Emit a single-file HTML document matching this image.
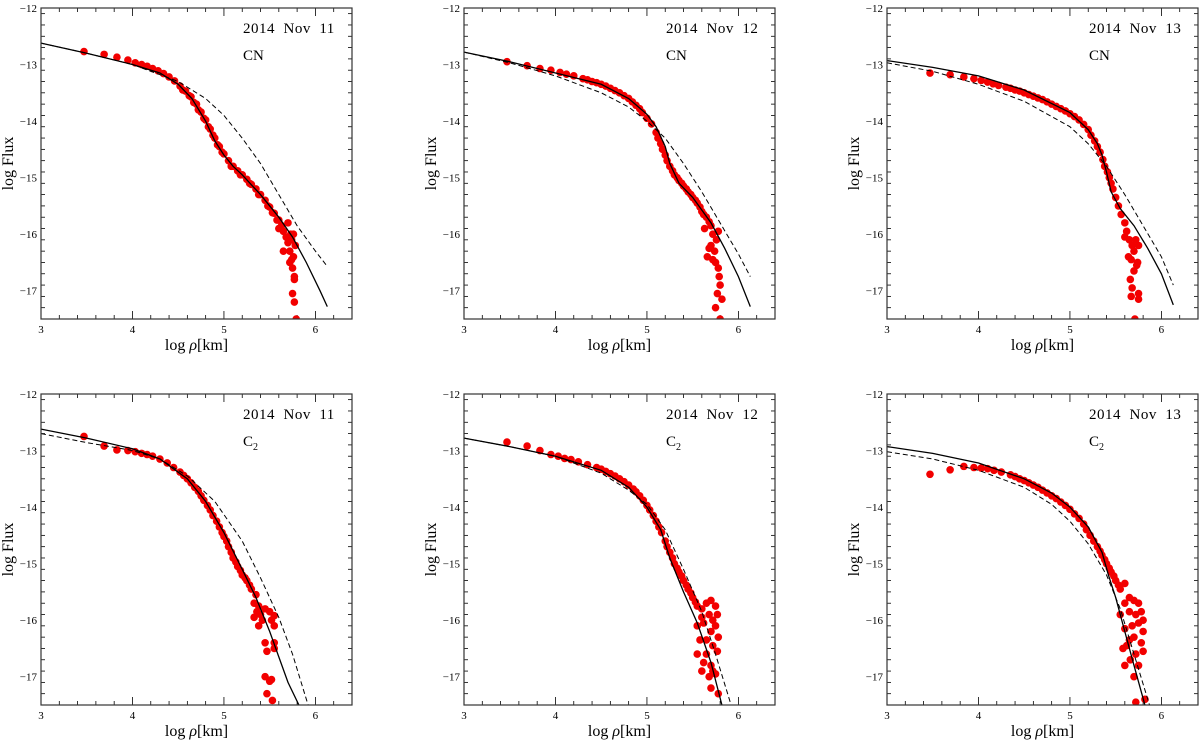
<!DOCTYPE html>
<html><head><meta charset="utf-8"><style>
body{margin:0;background:#fff;}
svg{display:block;font-family:"Liberation Serif",serif;}
</style></head><body>
<svg id="fig" width="1200" height="743" viewBox="0 0 1200 743"></svg>
<script>
const xTicks=[3,4,5,6];
const yTicks=[-12,-13,-14,-15,-16,-17];
const titles=["2014 Nov 11","2014 Nov 12","2014 Nov 13","2014 Nov 11","2014 Nov 12","2014 Nov 13"];
const species=["CN","CN","CN","C2","C2","C2"];
const solid1=[3,-12.62,3.5,-12.8,4,-13.0,4.3,-13.15,4.5,-13.35,4.65,-13.6,4.8,-14.0,4.9,-14.35,5.0,-14.6,5.1,-14.8,5.2,-14.95,5.4,-15.3,5.6,-15.7,5.75,-16.05,5.9,-16.5,6.05,-17.0,6.13,-17.28];
const dash1=[3,-12.62,3.5,-12.8,4,-13.0,4.5,-13.3,4.8,-13.6,5.0,-13.9,5.2,-14.3,5.4,-14.75,5.6,-15.3,5.8,-15.85,6.0,-16.3,6.13,-16.57];
const pts1=[3.47,-12.77,3.69,-12.82,3.83,-12.87,3.95,-12.92,4.03,-12.97,4.1,-13.0,4.16,-13.03,4.22,-13.07,4.28,-13.11,4.34,-13.16,4.4,-13.22,4.46,-13.29,4.52,-13.38,4.58,-13.47,4.64,-13.57,4.7,-13.7,4.75,-13.84,4.8,-13.98,4.85,-14.14,4.9,-14.3,4.95,-14.45,5.0,-14.58,5.05,-14.7,5.1,-14.8,5.15,-14.88,5.2,-14.95,5.25,-15.03,5.3,-15.12,5.35,-15.2,5.4,-15.3,5.45,-15.4,5.5,-15.52,5.55,-15.63,5.6,-15.75,5.63,-15.85,5.65,-15.95,5.68,-16.05,5.7,-16.15,5.72,-16.3,5.74,-16.1,5.76,-16.4,5.75,-16.6,5.72,-16.5,5.78,-16.2,5.77,-16.8,5.75,-17.05,5.77,-17.2,5.73,-16.0,5.7,-15.8,5.76,-16.0,5.79,-17.5,5.6,-15.9,5.65,-16.3,5.74,-16.45,5.77,-16.75,4.72,-13.8,4.78,-13.95,4.83,-14.1,4.88,-14.25,4.93,-14.42,4.98,-14.55,5.08,-14.8,5.18,-14.95,5.28,-15.1,5.38,-15.3,5.48,-15.5,5.53,-15.62,5.58,-15.75,4.55,-13.45,4.62,-13.55,4.67,-13.67];
const solid2=[3,-12.78,3.5,-12.95,4,-13.15,4.5,-13.35,4.8,-13.6,5.0,-13.88,5.1,-14.1,5.2,-14.45,5.25,-14.75,5.35,-15.1,5.5,-15.35,5.7,-15.8,5.85,-16.25,6.0,-16.75,6.13,-17.28];
const dash2=[3,-12.78,3.5,-12.97,4,-13.2,4.5,-13.5,4.8,-13.75,5.0,-14.0,5.2,-14.3,5.4,-14.75,5.6,-15.25,5.8,-15.8,6.0,-16.35,6.13,-16.75];
const pts2=[3.47,-12.95,3.69,-13.02,3.83,-13.07,3.95,-13.1,4.05,-13.14,4.12,-13.17,4.2,-13.2,4.3,-13.25,4.4,-13.3,4.5,-13.35,4.6,-13.42,4.7,-13.5,4.8,-13.6,4.88,-13.72,4.95,-13.85,5.0,-13.95,5.05,-14.05,5.1,-14.2,5.15,-14.4,5.2,-14.6,5.25,-14.8,5.3,-14.95,5.35,-15.05,5.4,-15.15,5.45,-15.25,5.5,-15.35,5.55,-15.45,5.6,-15.6,5.65,-15.7,5.7,-15.85,5.72,-16.0,5.7,-16.2,5.74,-16.3,5.76,-16.1,5.68,-16.25,5.75,-16.5,5.78,-16.6,5.72,-16.45,5.8,-16.9,5.77,-17.05,5.82,-17.15,5.75,-17.3,5.8,-17.5,5.79,-16.75,5.66,-16.4,5.78,-15.95,5.63,-15.9,4.35,-13.27,4.45,-13.32,4.55,-13.38,4.65,-13.46,4.75,-13.55,4.84,-13.66,4.92,-13.78,5.12,-14.3,5.17,-14.5,5.22,-14.7,5.28,-14.88,5.33,-15.0,5.38,-15.1,5.43,-15.2,5.48,-15.3,5.53,-15.4,5.58,-15.52,5.62,-15.65,5.68,-15.78];
const solid3=[3,-12.93,3.5,-13.05,4,-13.2,4.5,-13.45,5.0,-13.85,5.2,-14.15,5.3,-14.4,5.35,-14.6,5.4,-14.9,5.45,-15.25,5.55,-15.55,5.7,-15.85,5.85,-16.25,6.0,-16.7,6.13,-17.25];
const dash3=[3,-12.97,3.5,-13.12,4,-13.35,4.5,-13.65,5.0,-14.1,5.2,-14.4,5.4,-14.8,5.6,-15.3,5.8,-15.85,6.0,-16.4,6.13,-16.9];
const pts3=[3.47,-13.15,3.69,-13.18,3.84,-13.22,3.95,-13.25,4.03,-13.28,4.1,-13.31,4.16,-13.34,4.22,-13.37,4.3,-13.4,4.4,-13.45,4.5,-13.5,4.6,-13.56,4.7,-13.62,4.8,-13.7,4.9,-13.78,5.0,-13.87,5.1,-13.98,5.2,-14.15,5.27,-14.35,5.33,-14.55,5.38,-14.8,5.43,-15.0,5.47,-15.2,5.5,-15.35,5.53,-15.5,5.56,-15.65,5.6,-15.8,5.62,-15.95,5.65,-16.1,5.6,-16.05,5.68,-16.2,5.7,-16.3,5.72,-16.1,5.75,-16.2,5.67,-16.45,5.73,-16.55,5.7,-16.65,5.66,-16.8,5.68,-16.95,5.67,-17.1,5.75,-17.05,5.75,-17.15,5.71,-17.5,5.74,-16.5,5.64,-16.4,4.35,-13.42,4.45,-13.47,4.55,-13.53,4.65,-13.59,4.75,-13.66,4.85,-13.74,4.95,-13.82,5.05,-13.92,5.15,-14.06,5.23,-14.25,5.3,-14.45,5.36,-14.68,5.41,-14.9,5.45,-15.1];
const solid4=[3,-12.62,3.5,-12.78,4,-12.97,4.3,-13.15,4.6,-13.5,4.8,-13.9,5.0,-14.45,5.2,-15.1,5.35,-15.6,5.5,-16.2,5.6,-16.65,5.7,-17.1,5.82,-17.5];
const dash4=[3,-12.7,3.5,-12.86,4,-13.0,4.3,-13.15,4.6,-13.45,4.9,-13.9,5.2,-14.6,5.4,-15.25,5.6,-15.95,5.75,-16.6,5.92,-17.5];
const pts4=[3.47,-12.75,3.69,-12.92,3.83,-12.99,3.95,-13.0,4.03,-13.02,4.1,-13.05,4.16,-13.07,4.22,-13.1,4.3,-13.15,4.38,-13.22,4.45,-13.3,4.52,-13.38,4.6,-13.5,4.68,-13.65,4.75,-13.8,4.82,-13.97,4.88,-14.15,4.95,-14.35,5.0,-14.52,5.05,-14.7,5.1,-14.9,5.15,-15.05,5.2,-15.2,5.25,-15.3,5.3,-15.45,5.35,-15.55,5.33,-15.7,5.38,-15.75,5.4,-15.9,5.36,-15.85,5.42,-16.0,5.38,-16.1,5.45,-15.8,5.5,-15.85,5.55,-15.92,5.52,-16.0,5.55,-16.1,5.45,-16.4,5.47,-16.55,5.55,-16.4,5.55,-16.5,5.45,-17.0,5.5,-17.08,5.52,-17.05,5.47,-17.3,5.53,-17.42,5.33,-15.95,4.56,-13.44,4.64,-13.57,4.72,-13.72,4.78,-13.88,4.85,-14.05,4.92,-14.25,4.98,-14.45,5.03,-14.6,5.08,-14.8,5.13,-14.97,5.18,-15.12,5.23,-15.25,5.28,-15.38];
const solid5=[3,-12.78,3.5,-12.93,4,-13.1,4.5,-13.35,4.8,-13.65,5.0,-14.0,5.15,-14.4,5.25,-14.9,5.4,-15.5,5.55,-16.05,5.7,-16.75,5.82,-17.5];
const dash5=[3,-12.78,3.5,-12.93,4,-13.1,4.5,-13.4,4.8,-13.7,5.0,-13.95,5.2,-14.4,5.4,-15.1,5.6,-15.85,5.75,-16.6,5.92,-17.5];
const pts5=[3.47,-12.85,3.69,-12.92,3.83,-13.0,3.95,-13.07,4.03,-13.1,4.1,-13.14,4.17,-13.16,4.25,-13.2,4.35,-13.25,4.45,-13.3,4.55,-13.37,4.65,-13.45,4.75,-13.55,4.85,-13.68,4.92,-13.8,5.0,-13.97,5.07,-14.15,5.13,-14.35,5.2,-14.6,5.25,-14.8,5.3,-15.0,5.35,-15.15,5.4,-15.3,5.45,-15.45,5.5,-15.6,5.55,-15.75,5.6,-15.8,5.65,-15.7,5.7,-15.65,5.75,-15.75,5.77,-15.9,5.72,-16.0,5.68,-15.9,5.62,-16.05,5.55,-16.1,5.7,-16.2,5.75,-16.1,5.78,-16.3,5.65,-16.35,5.58,-16.35,5.72,-16.45,5.77,-16.55,5.65,-16.6,5.55,-16.6,5.7,-16.8,5.62,-16.75,5.6,-16.9,5.72,-16.9,5.68,-17.0,5.75,-16.95,5.7,-17.2,5.78,-17.3,5.6,-15.95,4.5,-13.33,4.6,-13.41,4.7,-13.5,4.8,-13.61,4.88,-13.73,4.96,-13.88,5.03,-14.05,5.1,-14.25,5.16,-14.45,5.22,-14.7,5.28,-14.9,5.33,-15.08,5.38,-15.22,5.43,-15.38,5.48,-15.52,5.53,-15.68];
const solid6=[3,-12.93,3.5,-13.05,4,-13.22,4.5,-13.5,4.8,-13.75,5.0,-14.0,5.2,-14.35,5.35,-14.8,5.42,-15.2,5.5,-15.6,5.6,-16.2,5.7,-16.8,5.82,-17.5];
const dash6=[3,-13.02,3.5,-13.15,4,-13.35,4.5,-13.65,4.8,-13.95,5.0,-14.25,5.2,-14.65,5.4,-15.2,5.55,-15.8,5.7,-16.6,5.87,-17.5];
const pts6=[3.47,-13.42,3.69,-13.34,3.84,-13.28,3.95,-13.3,4.03,-13.31,4.1,-13.32,4.17,-13.35,4.25,-13.38,4.35,-13.43,4.45,-13.5,4.55,-13.57,4.65,-13.65,4.75,-13.75,4.85,-13.85,4.95,-13.97,5.05,-14.12,5.15,-14.3,5.22,-14.5,5.3,-14.7,5.35,-14.85,5.4,-15.0,5.45,-15.15,5.5,-15.3,5.55,-15.45,5.6,-15.35,5.65,-15.6,5.7,-15.65,5.75,-15.7,5.78,-15.85,5.8,-16.0,5.72,-15.9,5.65,-15.85,5.6,-15.7,5.55,-15.9,5.68,-16.1,5.75,-16.05,5.8,-16.2,5.6,-16.15,5.7,-16.3,5.78,-16.4,5.65,-16.35,5.58,-16.5,5.72,-16.6,5.8,-16.55,5.66,-16.7,5.6,-16.8,5.75,-16.8,5.7,-17.0,5.72,-17.45,5.82,-17.4,5.62,-16.45,4.4,-13.46,4.5,-13.53,4.6,-13.61,4.7,-13.7,4.8,-13.8,4.9,-13.91,5.0,-14.04,5.1,-14.2,5.18,-14.4,5.26,-14.6,5.33,-14.78,5.38,-14.93,5.43,-15.08,5.48,-15.22,5.53,-15.38];
const solids=[solid1,solid2,solid3,solid4,solid5,solid6];
const dashes=[dash1,dash2,dash3,dash4,dash5,dash6];
const points=[pts1,pts2,pts3,pts4,pts5,pts6];

const NS="http://www.w3.org/2000/svg";
const svg=document.getElementById('fig');
const W=311,H=311,X0=3,X1=6.4,Y0=-17.5,Y1=-12;
const lefts=[41,464,887],tops=[8,394];
function mk(tag,attrs,parent){const e=document.createElementNS(NS,tag);for(const k in attrs)e.setAttribute(k,attrs[k]);parent.appendChild(e);return e;}
for(let p=0;p<6;p++){
  const L=lefts[p%3],T=tops[Math.floor(p/3)];
  const sx=v=>L+(v-X0)/(X1-X0)*W;
  const sy=v=>T+(Y1-v)/(Y1-Y0)*H;
  const g=mk('g',{},svg);
  
  
  const clipId='c'+p;
  const cp=mk('clipPath',{id:clipId},g);mk('rect',{x:L,y:T,width:W,height:H},cp);
  const tk=mk('g',{stroke:'#000','stroke-width':0.8},g);
  
  
  for(let i=0;i<=17;i++){const v=X0+i*0.2;const x=sx(v);const maj=Math.abs(v-Math.round(v))<1e-6;const l=maj?8:4;
    mk('line',{x1:x,y1:T+H,x2:x,y2:T+H-l},tk);mk('line',{x1:x,y1:T,x2:x,y2:T+l},tk);}
  for(let i=0;i<=27;i++){const v=Y0+i*0.2;const y=sy(v);const maj=Math.abs(v-Math.round(v))<1e-6;const l=maj?8:4;
    mk('line',{x1:L,y1:y,x2:L+l,y2:y},tk);mk('line',{x1:L+W,y1:y,x2:L+W-l,y2:y},tk);}
  xTicks.forEach(v=>{const t=mk('text',{x:sx(v),y:T+H+14,'font-size':11,'text-anchor':'middle'},g);t.textContent=v;
    
    });
  yTicks.forEach(v=>{const t=mk('text',{x:L-4,y:sy(v)+4,'font-size':11,'text-anchor':'end'},g);t.textContent='\u2212'+Math.abs(v);
    
    });
  const xt=mk('text',{x:L+W/2,y:T+H+31,'font-size':16,'text-anchor':'middle'},g);
  
  
  xt.innerHTML='log <tspan font-style="italic">ρ</tspan>[km]';
  const yt=mk('text',{x:0,y:0,'font-size':16,'text-anchor':'middle',transform:`translate(${L-28},${T+H/2}) rotate(-90)`},g);
  
  
  yt.textContent='log Flux';
  const tt=mk('text',{x:L+202,y:T+25,'font-size':15,'letter-spacing':'0.5'},g);
  
  
  tt.textContent=titles[p].replace(/ /g,'\u00a0\u00a0');
  const st=mk('text',{x:L+202,y:T+52,'font-size':15},g);
  
  
  if(species[p]==='C2'){st.innerHTML='C<tspan font-size="10" dy="4">2</tspan>';}else st.textContent=species[p];
  const inner=mk('g',{'clip-path':`url(#${clipId})`},g);
  const pd=points[p];
  const sg=mk('g',{fill:'#f20000'},inner);
  
  
  for(let i=0;i<pd.length;i+=2){const c=mk('circle',{cx:sx(pd[i]),cy:sy(pd[i+1]),r:3.8},sg);
    
    }
  const path=arr=>{let d='';for(let i=0;i<arr.length;i+=2)d+=(i?'L':'M')+sx(arr[i]).toFixed(1)+','+sy(arr[i+1]).toFixed(1);return d;};
  const dl=mk('path',{d:path(dashes[p]),fill:'none',stroke:'#000','stroke-width':1,'stroke-dasharray':'5,3'},inner);
  
  
  const sl=mk('path',{d:path(solids[p]),fill:'none',stroke:'#000','stroke-width':1.3},inner);
  
  
  const fr=mk('rect',{x:L,y:T,width:W,height:H,fill:'none',stroke:'#333','stroke-width':1.2},g);
  
  
}
</script>
</body></html>
